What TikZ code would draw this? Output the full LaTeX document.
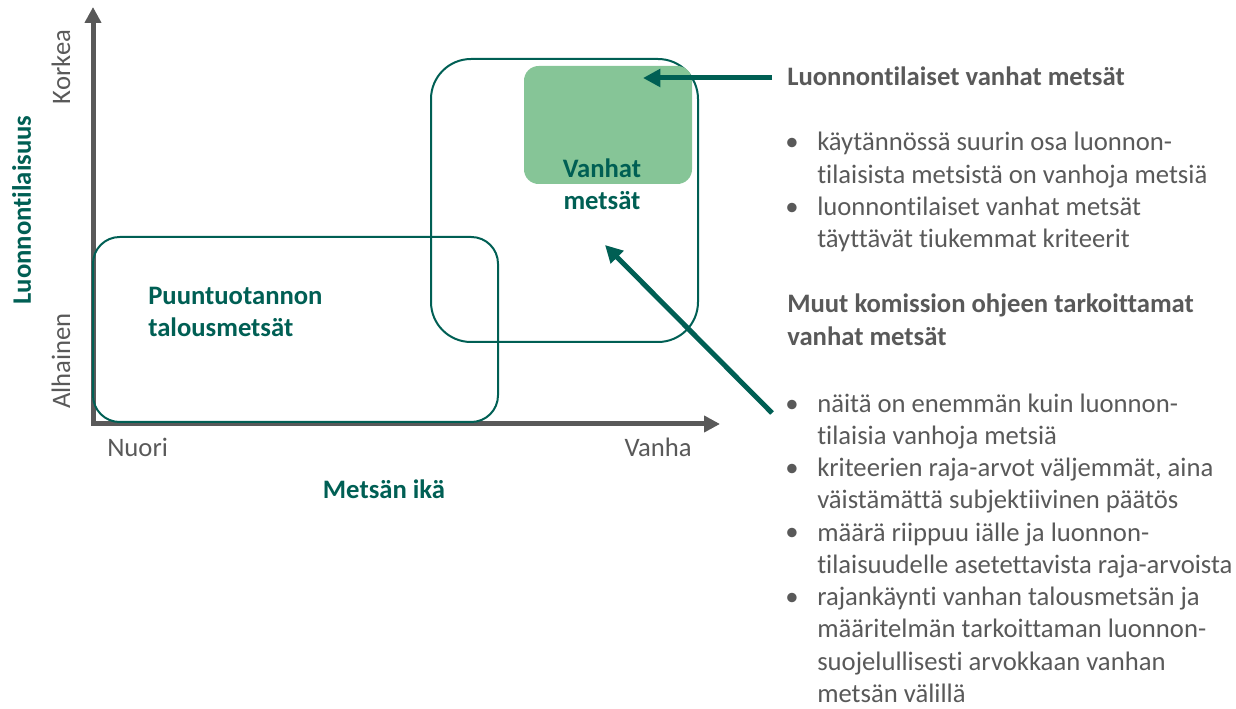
\documentclass[tikz,border=0pt]{standalone}
\usepackage{fontspec}
\setmainfont[Ligatures={NoCommon}]{Carlito}
\usetikzlibrary{arrows.meta}
\usetikzlibrary{positioning}

\definecolor{forestteal}{HTML}{005F54}
\definecolor{textgray}{HTML}{595959}
\definecolor{oldgreen}{HTML}{86C597}

\begin{document}
\begin{tikzpicture}[x=0.75pt,y=-0.75pt,
  axis/.style={draw=textgray,line width=3.75pt,{Triangle[width=12pt,length=12pt]}-{Triangle[width=12pt,length=12pt]}},
  pointer/.style={draw=forestteal,line width=3.75pt,-{Triangle[width=13pt,length=13pt]}},
  area/.style={draw=forestteal,line width=1.5pt},
  bodytext/.style={font=\fontsize{20}{24.2}\selectfont,text=textgray,inner sep=0pt},
  headtext/.style={font=\fontsize{20}{24.2}\selectfont\bfseries,text=textgray,inner sep=0pt},
  labeltext/.style={font=\fontsize{20}{24}\selectfont\bfseries,text=forestteal,inner sep=0pt}]
\useasboundingbox (0,0) rectangle (1236,709);

% axes
\coordinate (ytop) at (93,7);
\coordinate (origin) at (93,424);
\coordinate (xend) at (720,424);
\draw[axis] (ytop) -- (origin) -- (xend);
\node[labeltext,rotate=90,anchor=base] (ytitle) at (31,210) {Luonnontilaisuus};
\node[bodytext,rotate=90,anchor=base] (korkea) at (70,67) {Korkea};
\node[bodytext,rotate=90,anchor=base] (alhainen) at (70,361) {Alhainen};
\node[bodytext,anchor=base west] (nuori) at (107,456) {Nuori};
\node[bodytext,anchor=base east] (vanha) at (692,456) {Vanha};
\node[labeltext,anchor=base] (xtitle) at (384,498) {Metsän ikä};

% areas
\draw[area,rounded corners=30pt] (431,59) rectangle (698,342);
\fill[oldgreen,rounded corners=11pt] (524,66) rectangle (692,184);
\draw[area,rounded corners=20pt] (93,237) rectangle (498,422);
\node[labeltext,anchor=base] (vanhalabel) at (602,178) {\begin{tabular}[t]{@{}c@{}}Vanhat\\metsät\end{tabular}};
\node[labeltext,anchor=base west] (talouslabel) at (148,305) {\begin{tabular}[t]{@{}l@{}}Puuntuotannon\\talousmetsät\end{tabular}};

% pointers
\coordinate (luontotail) at (772,78);
\coordinate (luontotip) at (643,78);
\coordinate (muuttail) at (772,413);
\coordinate (muuttip) at (605,245);
\draw[pointer] (luontotail) -- (luontotip);
\draw[pointer] (muuttail) -- (muuttip);

% text on the right
\node[headtext,anchor=base west] (luontohead) at (787,86) {Luonnontilaiset vanhat metsät};
\node[bodytext,anchor=base] (luontob1) at (792,151) {\textbullet};
\node[bodytext,anchor=base] (luontob2) at (792,216) {\textbullet};
\node[bodytext,anchor=base west] (luontolist) at (817,151) {\begin{tabular}[t]{@{}l@{}}käytännössä suurin osa luonnon-\\tilaisista metsistä on vanhoja metsiä\\luonnontilaiset vanhat metsät\\täyttävät tiukemmat kriteerit\end{tabular}};

\node[headtext,anchor=base west] (muuthead) at (787,313) {\begin{tabular}[t]{@{}l@{}}Muut komission ohjeen tarkoittamat\\vanhat metsät\end{tabular}};
\node[bodytext,anchor=base] (muutb1) at (792,412) {\textbullet};
\node[bodytext,anchor=base] (muutb2) at (792,476.4) {\textbullet};
\node[bodytext,anchor=base] (muutb3) at (792,540.8) {\textbullet};
\node[bodytext,anchor=base] (muutb4) at (792,605.2) {\textbullet};
\node[bodytext,anchor=base west] (muutlist) at (817,412) {\begin{tabular}[t]{@{}l@{}}näitä on enemmän kuin luonnon-\\tilaisia vanhoja metsiä\\kriteerien raja-arvot väljemmät, aina\\väistämättä subjektiivinen päätös\\määrä riippuu iälle ja luonnon-\\tilaisuudelle asetettavista raja-arvoista\\rajankäynti vanhan talousmetsän ja\\määritelmän tarkoittaman luonnon-\\suojelullisesti arvokkaan vanhan\\metsän välillä\end{tabular}};

\end{tikzpicture}
\end{document}
